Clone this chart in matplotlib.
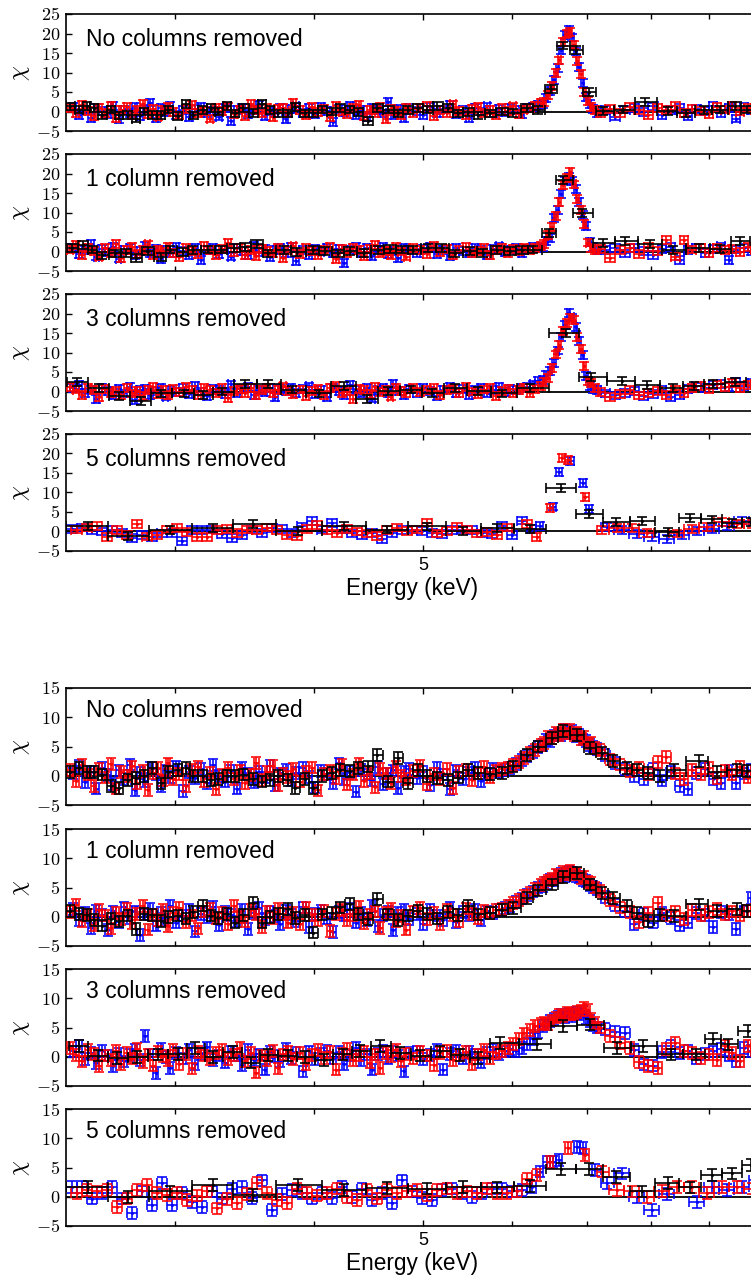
import numpy as np
import matplotlib
matplotlib.use("Agg")
import matplotlib.pyplot as plt
from matplotlib.ticker import FixedLocator, NullFormatter, FuncFormatter

plt.rcParams["mathtext.fontset"] = "cm"
plt.rcParams["font.family"] = ["Liberation Sans", "DejaVu Sans"]

nan = np.nan

# ---------------------------------------------------------------- energy grids (keV)
# fine binning of the red / blue spectra (well exposed data sets)
E_RED_D = ([2.42, 2.45, 2.48, 2.51, 2.54, 2.57, 2.60, 2.63, 2.66, 2.69,
            2.72, 2.75, 2.78, 2.81, 2.84, 2.87, 2.90, 2.93, 2.96, 2.99]
           + [3.03, 3.07, 3.11, 3.15, 3.19, 3.23, 3.27, 3.31, 3.35, 3.39,
              3.43, 3.47, 3.51, 3.55, 3.59, 3.63, 3.67, 3.71, 3.75, 3.79, 3.83]
           + [3.88, 3.93, 3.98, 4.03, 4.08, 4.13, 4.18, 4.23, 4.28, 4.33,
              4.38, 4.43, 4.48, 4.53, 4.58, 4.63, 4.68, 4.73, 4.78, 4.83]
           + [4.90, 4.97, 5.04, 5.11, 5.18, 5.25, 5.32, 5.39, 5.46, 5.53, 5.60,
              5.67, 5.74, 5.81, 5.88, 5.95, 6.02, 6.09, 6.16, 6.23, 6.30, 6.37]
           + [6.42, 6.47, 6.52, 6.57, 6.62, 6.67, 6.72, 6.77, 6.82, 6.87,
              6.92, 6.97, 7.02, 7.07, 7.12]
           + [7.20, 7.35, 7.50, 7.65, 7.80, 7.95, 8.10, 8.25, 8.40, 8.55,
              8.70, 8.85, 9.00, 9.15, 9.30, 9.45, 9.60, 9.75, 9.90])
E_BLUE_D = ([2.435, 2.465, 2.495, 2.525, 2.555, 2.585, 2.615, 2.645, 2.675, 2.705,
             2.735, 2.765, 2.795, 2.825, 2.855, 2.885, 2.915, 2.945, 2.975]
            + [3.01, 3.05, 3.09, 3.13, 3.17, 3.21, 3.25, 3.29, 3.33, 3.37, 3.41,
               3.45, 3.49, 3.53, 3.57, 3.61, 3.65, 3.69, 3.73, 3.77, 3.81, 3.85]
            + [3.905, 3.955, 4.005, 4.055, 4.105, 4.155, 4.205, 4.255, 4.305, 4.355,
               4.405, 4.455, 4.505, 4.555, 4.605, 4.655, 4.705, 4.755, 4.805, 4.855]
            + [4.935, 5.005, 5.075, 5.145, 5.215, 5.285, 5.355, 5.425, 5.495, 5.565,
               5.635, 5.705, 5.775, 5.845, 5.915, 5.985, 6.055, 6.125, 6.195, 6.265, 6.335]
            + [6.395, 6.445, 6.495, 6.545, 6.595, 6.645, 6.695, 6.745, 6.795, 6.845,
               6.895, 6.945, 6.995, 7.045, 7.095, 7.145]
            + [7.275, 7.425, 7.575, 7.725, 7.875, 8.025, 8.175, 8.325, 8.475,
               8.625, 8.775, 8.925, 9.075, 9.225, 9.375, 9.525, 9.675, 9.825])

# coarser binning of the red / blue spectra (5 columns removed)
E_RED_S = [2.4527, 2.5036, 2.5556, 2.6087, 2.6629, 2.7182, 2.7746, 2.8322, 2.8910, 2.9511,
           3.0124, 3.0750, 3.1388, 3.2041, 3.2706, 3.3386, 3.4079, 3.4787, 3.5510, 3.6248,
           3.7001, 3.7770, 3.8554, 3.9355, 4.0173, 4.1008, 4.1860, 4.2729, 4.3617, 4.4523,
           4.5448, 4.6393, 4.7357, 4.8340, 4.9345, 5.0370, 5.1416, 5.2485, 5.3575, 5.4688,
           5.5824, 5.6984, 5.8168, 5.9377, 6.0610, 6.1870, 6.3155,
           6.4071, 6.4866, 6.5671, 6.6486, 6.7311, 6.8146, 6.8992, 6.9848, 7.0715,
           7.2186, 7.4448, 7.6779, 7.9185, 8.1665, 8.4224, 8.6862, 8.9583, 9.2389, 9.5283, 9.8268]
E_BLUE_S = [2.4276, 2.4780, 2.5295, 2.5820, 2.6356, 2.6904, 2.7463, 2.8033, 2.8615, 2.9209,
            2.9816, 3.0435, 3.1067, 3.1713, 3.2372, 3.3044, 3.3731, 3.4431, 3.5147, 3.5877,
            3.6622, 3.7383, 3.8160, 3.8953, 3.9762, 4.0588, 4.1431, 4.2292, 4.3171, 4.4068,
            4.4983, 4.5918, 4.6872, 4.7846, 4.8840, 4.9855, 5.0890, 5.1948, 5.3027, 5.4129,
            5.5253, 5.6401, 5.7573, 5.8769, 5.9990, 6.1237, 6.2509,
            6.3546,
            6.4467, 6.5267, 6.6077, 6.6897, 6.7727, 6.8569, 6.9420, 7.0282, 7.1154,
            7.2932, 7.5217, 7.7573, 8.0003, 8.2509, 8.5094, 8.7760, 9.0509, 9.3344, 9.6268, 9.9284]

# black spectrum binnings
E_BLK_FINE = [2.422, 2.463, 2.504, 2.540, 2.587, 2.630, 2.674, 2.724, 2.769, 2.815,
              2.867, 2.915, 2.963, 3.019, 3.069, 3.119, 3.178, 3.231, 3.284, 3.345,
              3.400, 3.457, 3.529, 3.595, 3.654, 3.715, 3.785, 3.847, 3.927, 3.992,
              4.067, 4.151, 4.220, 4.308, 4.379, 4.470, 4.554, 4.658, 4.755, 4.853,
              4.954, 5.047, 5.152, 5.269, 5.379, 5.491, 5.605, 5.745, 5.888, 6.023,
              6.199, 6.341]
E_BLK_T1_HI = [6.512, 6.675, 6.856, 7.042, 7.247, 7.551, 7.901, 8.268, 8.581, 8.904,
               9.219, 9.506, 9.744]
E_BLK_B_HI = [6.526, 6.675, 6.870, 7.056, 7.232, 7.397, 7.612, 7.771, 7.950, 8.148,
              8.371, 8.813, 9.162, 9.545, 9.744]
E_BLK_T2 = [2.432, 2.483, 2.534, 2.587, 2.657, 2.713, 2.769, 2.838, 2.915, 2.975,
            3.050, 3.119, 3.217, 3.298, 3.387, 3.471, 3.558, 3.639, 3.754, 3.863,
            3.992, 4.092, 4.195, 4.308, 4.425, 4.563, 4.677, 4.794, 4.904, 5.057,
            5.205, 5.346, 5.513, 5.663, 5.828, 5.986, 6.135, 6.276, 6.486, 6.675,
            6.941, 7.247, 7.583, 7.982, 8.354, 8.813, 9.219, 9.605]
E_BLK_T3 = [2.457, 2.566, 2.674, 2.798, 2.915, 3.056, 3.184, 3.311, 3.471, 3.639,
            3.823, 4.034, 4.247, 4.461, 4.658, 4.874, 5.099, 5.346, 5.605, 5.888,
            6.237, 6.716, 7.071, 7.536, 7.933, 8.354, 8.723, 9.088, 9.506]
E_BLK_B3 = [2.463, 2.561, 2.668, 2.780, 2.897, 3.019, 3.132, 3.250, 3.380, 3.508,
            3.639, 3.785, 3.927, 4.076, 4.238, 4.397, 4.582, 4.774, 4.975, 5.183,
            5.401, 5.605, 5.864, 6.328, 6.675, 7.056, 7.459, 7.868, 8.319, 8.759,
            9.088, 9.371, 9.764]
E_BLK_COARSE = [2.509, 2.724, 2.975, 3.244, 3.529, 3.871, 4.247, 4.648, 5.047, 5.435,
                5.828, 6.237, 6.648, 7.042, 7.443, 7.852, 8.268, 8.651, 9.060, 9.448,
                9.824]

# ---------------------------------------------------------------- residuals, chi
# ---- upper set
t1_blk = [1.3, 0.5, 1.5, 1.0, -1.0, 0.5, -1.0, -0.8, -1.8, 0.0,
          -0.8, -0.8, 0.5, -1.2, 2.0, -1.0, 0.3, 0.8, 0.0, 1.5,
          -0.5, 0.8, -0.3, 2.0, 0.3, -0.5, -0.5, 1.2, -0.5, -0.5,
          0.5, 0.0, 0.8, 0.5, -0.2, -2.5, 1.0, 0.5, -0.5, 0.3,
          0.8, 0.5, 1.5, 0.8, -0.5, -0.2, -1.0, -0.5, 0.0, -0.3,
          1.0, 0.3,
          5.8, 16.9, 15.8, 5.0, 0.2, 0.5, 2.5, 0.2, -0.5, 0.3, 0.5, 1.5, 0.5]
t1_red = ([0.8, -0.5, 1.6, 0.2, -1.2, 0.9, -0.3, 1.4, -1.6, 0.5,
           1.1, -0.8, 0.3, 2.0, -0.6, 0.7, -1.3, 0.4, 1.2, -0.2]
          + [-1.0, 0.6, 1.7, -0.4, 0.2, -1.8, 0.9, 0.1, 1.3, -0.7,
             0.5, -1.1, 1.9, 0.3, -0.5, 0.8, -1.4, 0.6, 1.0, -0.3, 2.2]
          + [0.4, -0.9, 1.1, -0.2, 0.7, -1.5, 1.4, 0.0, -0.6, 0.9,
             1.6, -1.1, 0.3, -0.4, 1.2, -2.0, 0.6, 0.2, -0.8, 1.0]
          + [-0.3, 0.8, 1.5, -1.2, 0.4, -0.5, 1.8, 0.2, -0.9, 0.6, 1.1,
             -0.4, 0.3, -1.0, 0.9, 0.1, 1.3, -0.6, 0.5, 0.9, 1.4, 2.2]
          + [2.5, 4.3, 6.6, 9.8, 13.1, 17.8, 20.0, 20.3, 17.0, 13.0,
             9.6, 5.0, 2.6, 1.2, 0.3]
          + [-0.5, 0.6, -0.3, 1.2, 0.4, -0.8, 0.9, 0.3, 1.5, -0.4,
             0.7, 0.2, -0.6, 1.1, 0.5, 1.4, 0.0, 0.8, 0.4])
t1_blue = ([1.2, -0.8, 0.5, -1.7, 1.0, 0.2, -0.6, 1.5, -2.0, 0.4,
            -0.3, 1.1, -1.2, 0.7, 2.3, -1.6, 0.9, -0.2, 1.4]
           + [-0.9, 0.3, -1.5, 0.6, 1.2, -0.5, 0.1, -1.3, 0.8, -2.4, 0.5,
              1.0, -0.7, 0.3, 1.7, -1.1, 0.2, -0.4, 0.9, -1.9, 0.6, 1.3]
           + [-0.3, 0.8, -0.6, 1.1, 0.2, -2.6, 0.7, -0.1, 1.5, -0.9,
              0.4, -1.4, 1.0, 0.3, -0.5, 2.4, -0.8, 0.6, -1.7, 0.9]
           + [0.2, -1.0, 1.2, -0.4, 0.5, 1.7, -0.7, 0.3, -1.6, 0.8,
              0.0, 1.3, -0.5, 0.6, -0.2, 1.0, 0.4, -0.6, 0.9, 1.2, 1.6]
           + [1.8, 3.5, 5.3, 8.0, 11.2, 15.8, 19.6, 20.8, 19.0, 15.4,
              11.4, 7.3, 3.8, 2.0, 0.6, -0.3]
           + [0.3, -1.3, 0.5, 0.9, -0.2, 1.3, -0.9, 0.4, 1.0, -1.2,
              0.6, 0.2, 1.5, -0.5, 0.8, -1.8, 1.2, 0.3])

t2_blk = [0.8, 1.7, 0.5, -1.0, -0.5, -0.3, -1.6, 0.2, -1.5, 0.5,
          -0.2, 0.3, 0.5, 0.5, 0.8, 1.2, 2.0, -0.5, 0.3, -0.2,
          0.3, 0.1, -0.5, 0.2, -0.3, 0.3, 0.6, 0.5, 0.3, 1.0,
          0.8, -0.5, 0.2, -0.3, 0.3, 0.2, 0.3, 0.5, 4.7, 18.4,
          9.8, 2.1, 2.6, 1.9, 0.3, 0.9, 0.6, 2.6]
t2_red = ([0.5, 1.7, -0.8, 0.9, 0.2, -1.3, 1.0, -0.3, 2.0, -1.6,
           0.4, 1.2, -0.6, 0.3, 1.8, -0.9, 0.5, 0.0, 1.1, -0.4]
          + [-1.4, 0.8, 0.2, -0.7, 1.5, 0.3, -1.0, 0.6, 2.3, -0.2,
             0.9, -0.8, 0.4, -1.2, 0.7, 0.1, -0.5, 1.0, -1.7, 0.3, 1.3]
          + [-0.6, 0.8, 0.2, -0.9, 0.5, 1.2, -2.0, 0.6, -0.3, 1.0,
             0.4, -1.1, 0.7, 1.6, -0.4, 0.2, -0.8, 1.1, 0.0, -1.3]
          + [0.9, 0.3, -0.6, 1.4, -0.2, 0.7, -1.0, 0.5, 1.2, -0.5, 0.2,
             0.8, -0.9, 0.4, 1.0, -0.3, 0.6, 0.1, 0.9, 0.4, 1.0, 1.5]
          + [2.0, 4.3, 6.2, 9.2, 12.6, 17.0, 18.9, 20.3, 17.2, 13.5,
             10.6, 7.0, 2.3, 1.0, 0.4]
          + [0.6, -1.7, 0.3, 0.9, -0.6, 1.2, 0.2, 3.0, -1.3, 3.0,
             0.5, 0.8, -0.3, 1.0, 0.4, 0.6, -0.2, 1.1, 0.5])
t2_blue = ([1.0, -0.6, 0.3, 2.0, -1.3, 0.6, -0.2, 1.1, -1.8, 0.4,
            0.9, -0.8, 0.2, 1.5, -0.4, 0.7, -2.0, 0.5, -0.3]
           + [1.2, 0.1, -1.0, 0.8, -2.2, 0.3, 1.0, -0.6, 0.5, -1.3, 0.9,
              0.2, -0.8, 1.4, -0.2, 0.6, -1.5, 0.3, 0.8, -0.5, 1.1, -2.4]
           + [0.4, -1.0, 0.7, 0.0, 0.9, -0.3, 0.6, -3.0, 0.5, 1.2,
              -0.4, 0.8, -1.2, 0.3, 1.1, -0.7, 0.2, -1.6, 0.9, 0.5]
           + [-0.4, 0.7, 1.2, -0.6, 0.3, -1.1, 0.8, 0.1, -0.5, 1.0,
              0.4, -0.9, 0.6, 1.3, -0.2, 0.5, 0.9, -0.3, 0.6, 1.1, 0.8]
           + [1.2, 2.6, 3.5, 8.5, 10.6, 14.8, 18.2, 19.2, 18.0, 16.0,
              12.6, 9.4, 6.5, 2.5, 1.2, 0.3]
           + [0.4, 1.0, -0.5, 0.8, 0.2, -0.9, 0.6, 1.2, -2.1, 0.3,
              0.9, -0.4, 0.7, 1.3, -2.1, 0.5, 1.0, 0.2])

t3_blk = [2.4, 0.8, -1.2, -2.5, -0.5, -0.5, -0.8, 0.0, 2.0, 2.0,
          0.5, -0.5, 1.5, -2.0, 0.2, 0.5, -0.3, 0.8, 0.2, -0.5,
          0.8, 15.1, 3.8, 2.6, 1.7, 0.8, 1.5, 2.0, 2.5]
t3_red = ([1.2, 0.5, -0.8, 1.0, 0.3, -1.5, 0.6, -0.3, 0.2, -1.0,
           0.8, -0.5, 0.1, -1.2, 0.4, 1.1, -0.6, 0.3, -0.9, 0.7]
          + [-0.2, 1.2, 0.5, -0.8, 0.9, 0.3, -0.4, 1.0, -1.6, 0.2,
             0.6, -0.3, 0.8, -1.0, 0.4, 0.9, -0.5, 0.3, 1.3, 0.1, -0.6]
          + [0.5, -1.2, 0.2, 0.7, -0.8, 0.9, 1.4, -0.4, 0.0, -1.9,
             0.6, 0.3, -0.7, 1.1, -0.2, 0.5, -1.3, 0.8, 0.2, -0.5]
          + [0.9, -0.2, 0.4, 1.0, -0.9, 0.3, 0.6, -0.4, 1.2, 0.0, -0.7,
             0.5, 0.8, -1.1, 0.2, 0.6, -0.3, 0.4, 0.9, -0.5, 0.7, 1.4]
          + [2.5, 3.4, 6.0, 9.5, 12.0, 15.5, 17.6, 18.8, 18.4, 14.0,
             10.9, 6.5, 2.6, 2.1, 0.8]
          + [-0.2, -1.4, -0.6, 0.3, -1.0, -0.4, 0.2, -0.8, 0.5, -0.3,
             0.9, 1.4, 0.6, 1.8, 1.2, 2.2, 1.0, 1.7, 2.0])
t3_blue = ([0.8, 1.6, -0.3, 0.5, -1.9, 0.9, 0.2, -1.0, 0.6, -0.5,
            1.1, -2.1, 0.3, 0.7, -0.8, 0.2, 1.0, -1.3, 0.4]
           + [-0.2, 0.9, -0.6, 1.4, 0.0, -1.1, 0.6, 0.3, -0.7, 1.8, -0.4,
              0.5, 1.2, -0.9, 0.3, -0.2, 0.8, -1.5, 0.6, 0.2, 1.0, -0.4]
           + [0.7, 1.3, -0.6, 0.4, -1.4, 0.9, 0.1, -0.8, 1.6, 0.3,
              -0.5, 1.0, -1.8, 0.4, 0.8, -0.3, 1.9, 0.2, -0.9, 0.6]
           + [-0.4, 0.8, 0.2, -1.2, 0.5, 1.1, -0.3, 0.6, -0.8, 0.3,
              0.9, -0.5, 0.4, 1.2, -0.2, 0.6, 0.3, 1.0, 1.2, 1.8, 2.8]
           + [3.0, 4.3, 5.2, 7.3, 10.5, 14.0, 17.0, 20.1, 19.0, 16.5,
              13.0, 9.4, 4.0, 1.5, 0.6, 0.4]
           + [-0.5, -1.0, -0.3, 0.1, -1.2, -0.6, 0.4, -1.4, -0.8, 0.6,
              1.3, 0.9, 1.6, 2.0, 1.1, 2.4, 1.5, 2.2])

t4_blk = [1.5, -1.2, 0.3, 0.8, 2.0, 0.2, 1.5, 0.5, 1.3, 0.2,
          0.8, 0.6, 11.1, 4.4, 2.4, 2.6, -0.2, 3.4, 3.1, 2.1, 2.5]
t4_red = [0.5, 1.0, 1.5, -1.5, 0.3, -1.0, 2.0, -1.3, -1.0, 0.5,
          0.8, -0.2, -1.5, -1.5, 0.3, 0.6, -0.3, 0.5, 0.3, 1.0,
          0.3, -1.0, -1.2, 0.6, 1.7, 0.3, -0.5, 0.6, 0.0, -0.5,
          -1.2, 0.4, 1.0, 0.2, 0.5, 2.3, -0.5, 0.2, 1.2, 0.5,
          -0.5, -0.2, -1.0, 1.0, nan, 2.0, -1.5,
          nan, 6.1, nan, 18.8, 18.4, nan, nan, 8.8, nan,
          0.3, 0.9, 0.8, -0.3, nan, -0.5, 0.7, 1.2, 2.4, 2.0, 2.0]
t4_blue = [0.6, 1.0, 0.3, 0.0, 0.5, -0.3, -1.7, -0.8, -1.5, -0.5,
           -0.3, -2.5, 0.3, 0.3, 0.5, -0.6, -1.7, -1.0, 0.5, -0.3,
           0.8, 0.6, -0.4, 1.3, 2.7, 0.5, 2.2, 0.5, -0.5, -0.8,
           -0.3, -2.0, -0.5, 0.3, 0.5, 0.2, -0.3, -0.6, 0.3, 0.5,
           0.3, -0.5, -0.6, 1.5, -1.0, 2.8, 0.7,
           1.5,
           nan, 6.4, 15.2, nan, 18.0, nan, 12.4, 5.8, nan,
           1.1, 0.4, -0.6, -1.5, -1.9, -1.0, 0.2, 0.7, 1.5, 2.8, 2.5]

# ---- lower set
b1_blk = [0.7, 1.3, 0.7, 0.7, 0.2, -1.8, -2.1, -0.7, -0.4, 0.0,
          1.3, -1.3, 0.7, 1.0, 1.3, 0.0, 0.0, -0.7, -0.5, 0.0,
          0.0, 0.2, -0.5, -1.0, -0.7, 0.0, -0.7, -2.1, -0.5, -2.1,
          0.0, 0.5, 1.0, 0.8, 1.3, 1.6, 3.6, -1.0, 3.0, -1.3,
          1.0, 0.0, -0.4, -0.7, -0.3, 1.0, 0.5, 0.3, 0.5, 1.6,
          3.6, 5.0,
          6.4, 7.6, 7.0, 4.7, 3.9, 2.5, 1.3, 1.0, 0.5, 0.0, 1.0, 2.5, 0.7, 1.0, 0.8]
b1_red = ([1.0, -0.9, 1.9, 0.2, -1.7, 1.2, -0.3, 2.0, -2.2, 0.6,
           0.0, 1.6, -1.3, 0.8, -2.4, 0.4, 1.3, -0.8, 2.1, -0.5]
          + [0.3, -1.8, 1.0, 1.5, -1.0, 0.5, -2.3, 0.2, 1.4, -0.6,
             0.9, -1.3, 0.1, 2.2, -0.7, 0.7, 1.7, -1.6, 0.3, -0.2, 1.2]
          + [-1.0, 0.6, 1.4, -2.5, 0.3, 0.9, -0.4, 1.8, -1.5, 0.2,
             2.0, -0.9, 0.5, -2.0, 1.1, 0.4, -1.2, 1.5, 0.0, -0.6]
          + [0.8, 1.7, -1.4, 0.3, -0.5, 1.2, -2.1, 0.6, 1.0, -0.8, 0.4,
             1.5, -0.3, 0.9, 1.1, 1.4, 1.8, 2.4, 3.0, 3.9, 4.4, 5.3]
          + [5.6, 6.6, 6.4, 7.3, 7.0, 7.9, 7.2, 7.8, 6.9, 7.4,
             6.3, 6.6, 5.5, 5.7, 4.8]
          + [4.4, 2.8, 1.9, 0.8, 1.4, 0.2, 2.3, 3.2, 0.4, -0.6,
             1.0, 0.3, 1.3, -0.4, 0.9, 0.2, 1.5, -0.3, 0.7])
b1_blue = ([0.4, 1.7, -1.1, 0.7, -2.2, 1.3, 0.1, -1.4, 0.9, -0.6,
            1.9, -2.4, 0.5, -0.9, 1.4, 0.2, -1.8, 0.9, -0.2]
           + [1.6, -2.6, 0.6, -0.4, 1.1, -1.3, 1.8, 0.0, -1.0, 0.8, -2.2,
              1.4, 0.3, -1.1, 0.7, -0.3, 1.7, -1.6, 0.4, 1.0, -0.7, 0.5]
           + [1.3, -0.2, -2.0, 0.8, 0.3, -1.2, 2.1, -0.5, 0.6, -2.7,
              1.0, 0.2, -0.8, 1.5, -1.4, 0.4, 0.9, -2.1, 0.6, 1.2]
           + [-0.4, 0.7, -1.6, 1.3, 0.2, -2.3, 0.9, -0.6, 0.5, 1.4,
              -0.9, 0.3, 1.1, 0.6, 1.0, 1.3, 2.0, 2.7, 3.4, 4.1, 4.9]
           + [5.2, 6.1, 6.0, 6.9, 7.2, 7.0, 7.8, 7.3, 7.6, 6.8,
              7.0, 6.2, 6.0, 5.3, 5.0, 4.6]
           + [3.6, 2.2, 1.2, 0.0, -0.5, 1.1, -0.8, 0.6, -1.8, -2.3,
              0.5, 1.2, -0.6, -1.3, 0.8, -1.2, 0.4, 1.0])

b2_blk = [1.0, 0.5, 0.3, -0.5, -1.5, -0.3, -0.8, 0.2, -2.1, 0.5,
          0.3, -0.7, 0.0, 0.2, -0.3, 0.8, 1.9, 0.2, -0.2, 0.5,
          -1.0, 0.3, 2.4, -1.0, 0.0, 0.5, 1.3, -0.2, 0.3, -2.7,
          0.4, 0.7, 1.6, 2.2, 0.5, -0.4, 3.0, 0.4, -0.5, 0.2,
          1.0, 0.5, -0.3, 0.8, 0.3, 1.8, 0.4, 0.6, 1.2, 1.5,
          3.2, 4.5,
          5.5, 6.8, 7.5, 5.5, 4.1, 3.2, 1.8, 0.6, -0.7, 0.3, 0.1, 2.1, 1.0, 1.3, 1.0]
b2_red = ([0.8, 2.0, -0.7, 0.4, -1.4, 1.2, 0.2, -2.0, 0.7, -0.4,
           1.4, -1.1, 0.5, 1.8, -2.2, 0.3, -0.6, 1.1, -1.6, 0.6]
          + [1.5, -0.9, 0.2, -2.0, 0.9, 1.3, -0.3, 0.6, -1.2, 1.8,
             0.0, -0.8, 1.2, 0.4, -1.8, 0.8, -0.2, 1.4, 0.5, -1.0, 0.7]
          + [-1.3, 1.6, 0.3, -0.6, 1.0, -2.4, 0.5, 1.2, -0.5, 0.2,
             1.7, -1.1, 0.4, 0.9, -1.9, 0.6, 1.3, -0.7, 0.1, -2.2]
          + [0.9, 1.5, -0.4, 0.6, -1.2, 1.1, 0.3, -0.8, 1.4, 0.5, -0.3,
             1.0, 0.7, 1.2, 1.3, 1.9, 2.3, 2.9, 3.5, 4.1, 4.7, 5.4]
          + [5.8, 6.2, 6.5, 7.1, 6.8, 7.6, 7.3, 7.8, 7.2, 7.4,
             6.6, 6.9, 6.0, 5.8, 5.0]
          + [4.4, 2.9, 1.6, 0.8, -0.9, 0.6, 2.4, 0.2, 0.9, -0.4,
             1.1, 0.3, 0.8, 1.3, 0.4, 0.9, 0.2, 1.0, 1.2])
b2_blue = ([1.3, -0.6, 0.7, -2.0, 1.0, 0.3, -2.3, 0.9, -0.9, 1.6,
            -0.2, 0.9, -3.1, 0.4, 1.3, -1.5, 0.7, -0.5, 1.9]
           + [-1.0, 0.2, 1.1, -2.5, 0.5, -0.1, 1.7, -1.4, 0.8, 0.3, -0.8,
              1.2, -2.1, 0.6, 1.5, -0.4, 0.9, 0.1, -1.3, 1.0, 0.4, -0.7]
           + [1.6, -1.8, 0.5, 1.0, -0.3, -2.6, 0.8, 0.2, 1.4, -1.0,
              0.6, -0.5, 1.8, -1.6, 0.3, 0.9, -2.3, 0.7, 1.2, -0.4]
           + [0.5, -1.3, 1.1, 0.2, -0.6, 1.5, -0.9, 0.8, 0.3, 1.2,
              -0.5, 0.9, 0.6, 1.1, 1.5, 1.8, 2.5, 3.1, 3.7, 4.3, 5.0]
           + [5.3, 5.8, 6.3, 6.2, 7.0, 7.3, 6.9, 7.6, 7.5, 7.0,
              6.8, 6.3, 6.1, 5.4, 5.1, 4.7]
           + [3.4, 2.0, 0.9, -1.3, 0.5, -1.0, 0.7, -0.2, -1.5, -1.0,
              0.6, 0.3, -1.8, 0.8, 0.4, -2.1, 0.9, 3.2])

b3_blk = [1.8, 0.2, -0.2, 0.0, 0.4, 0.5, 1.5, 0.0, 0.8, -1.0,
          0.3, 0.2, 0.0, -0.5, 0.4, 1.0, 1.8, 0.6, 0.2, 0.9,
          0.3, -0.2, 2.4, 2.1, 5.3, 5.5, 1.5, 1.8, 0.4, 0.4,
          3.1, 2.1, 4.4]
b3_red = ([1.5, 0.3, -0.8, 1.2, 0.5, -1.6, 0.2, -0.5, 1.0, -1.2,
           0.6, -0.3, 1.4, -0.9, 0.4, -1.5, 0.9, 0.1, -0.6, 1.1]
          + [-1.3, 0.5, -2.0, 0.8, 0.2, -0.4, 0.7, 1.2, -0.4, 0.3,
             1.5, -0.8, 0.6, -2.7, 0.2, -0.5, 1.0, -2.0, 0.4, 0.9, -0.4]
          + [0.6, -1.3, 0.3, 1.1, -0.2, 0.8, -2.2, 0.5, 1.3, -0.6,
             0.2, 0.9, -1.0, 0.4, -1.9, 0.7, 0.1, 1.2, -0.8, 0.5]
          + [-0.3, 0.9, 0.2, -1.4, 0.6, 1.0, -0.5, 0.3, 0.8, -1.3, 0.4,
             1.1, -0.2, 0.6, 1.0, 1.5, 2.2, 3.0, 4.0, 4.6, 5.2, 5.6]
          + [5.8, 5.6, 6.2, 6.7, 7.1, 7.0, 7.5, 7.3, 7.2, 7.6,
             7.9, 8.4, 8.0, 6.4, 5.8]
          + [5.0, 3.6, 2.4, 1.5, -0.9, -1.6, -1.9, 1.3, 2.4, 1.0,
             0.7, -0.2, 0.4, -0.5, 1.8, 0.6, -0.7, 1.8, 1.2])
b3_blue = ([0.9, 1.8, -0.4, 0.6, -1.1, 1.0, 0.2, -1.6, 0.5, -0.8,
            0.3, 1.2, -0.5, 3.6, 0.4, -2.8, 1.3, 0.0, -1.9]
           + [0.7, -0.3, 1.1, -1.2, 0.5, 1.6, -0.5, 0.2, -1.0, 0.9, 0.3,
              -1.4, 1.2, -0.6, 0.4, -2.2, 0.8, 0.1, -0.7, 1.3, -0.2, 0.6]
           + [-2.5, 0.9, -0.4, 0.5, 1.0, -0.3, 0.8, -1.3, 0.2, 1.5,
              -0.6, 0.4, -2.2, 0.5, 1.0, -0.3, 0.8, 0.2, -2.5, 0.6]
           + [0.9, -0.4, 0.3, 1.1, -2.2, 0.5, 1.0, -0.3, 0.8, 0.4,
              -1.0, 0.6, 1.2, 0.4, 0.9, 1.3, 1.0, 1.5, 2.2, 3.0, 4.2]
           + [5.2, 5.5, 6.1, 6.5, 6.9, 7.2, 6.8, 7.4, 7.0, 7.5,
              7.2, 7.6, 6.6, 6.1, 5.4, 5.0]
           + [4.7, 4.3, 4.1, 1.2, -1.3, -1.5, 0.8, 1.8, 0.6, 1.0,
              -0.3, 0.5, 0.9, 1.3, 0.2, -0.7, 1.5, 1.0])

b4_blk = [1.7, 0.0, 0.9, 2.0, 0.3, 2.0, 1.2, 1.5, 1.4, 1.7,
          1.6, 1.8, 4.8, 4.8, 3.4, 0.9, 2.3, 1.6, 3.7, 4.0, 5.4]
b4_red = [0.6, 1.1, 0.9, 1.1, -1.7, -0.3, 1.1, 2.0, 0.6, 0.3,
          0.6, -0.5, 0.2, 0.9, -2.0, -0.4, -1.1, 0.5, 2.3, 0.6,
          -0.5, -1.1, 1.4, 0.6, 0.2, 0.6, 1.4, 0.0, -0.6, 1.1,
          -0.3, 1.1, 0.6, 0.9, 1.1, 0.3, 1.1, 1.4, 0.6, 0.9,
          0.6, 1.4, 0.6, 0.6, 0.9, 3.1, 3.7,
          nan, 6.0, nan, nan, 8.3, nan, nan, 7.1, nan,
          4.3, 1.2, 0.9, 0.0, 1.0, 1.7, 1.7, 0.6, 1.7, 1.7, 1.4]
b4_blue = [1.7, 1.7, -0.3, 0.6, 1.7, -0.3, -2.8, 0.9, -1.4, 2.3,
           -1.4, 0.6, -0.9, -1.7, 0.9, -0.3, 1.4, 1.7, -0.2, 2.8,
           -2.3, 0.5, 1.1, 0.6, -0.3, 0.6, -0.2, 1.7, 0.0, 1.4,
           -0.5, 0.6, -1.1, 2.8, 0.9, -0.2, -0.6, 1.1, 1.4, 0.6,
           0.0, 0.6, 1.4, 1.4, 0.9, 1.1, 1.7,
           4.3,
           6.0, 6.0, 6.3, nan, nan, 8.5, 8.3, nan, 4.6,
           2.3, 4.0, 0.0, -2.3, 0.5, nan, -0.9, 1.7, 1.2, 1.7, 2.8]

LABELS = ["No columns removed", "1 column removed",
          "3 columns removed", "5 columns removed"]

# ---------------------------------------------------------------- layout (pixels)
W, H = 751, 1277
AX_LEFT, AX_W, AX_H = 66, 694, 117
TOP_GROUP = [14, 154, 294, 434]
BOT_GROUP = [688, 829, 969, 1109]


def bin_err(e):
    """Half bin widths for contiguous bins centred on e."""
    e = np.asarray(e, float)
    d = np.diff(e)
    lo = np.concatenate([[d[0]], d]) / 2.0
    hi = np.concatenate([d, [d[-1]]]) / 2.0
    return np.vstack([lo, hi])


def residuals(ax, e, chi, color, alpha, z):
    e = np.asarray(e, float)
    chi = np.asarray(chi, float)
    ax.errorbar(e, chi, xerr=bin_err(e), yerr=1.0, fmt=".", ms=2.5,
                color=color, ecolor=color, alpha=alpha,
                elinewidth=1.4, capsize=3.5, capthick=1.4, zorder=z)


fig = plt.figure(figsize=(W / 100, H / 100), dpi=100)
fig.patch.set_facecolor("white")

panels = [
    (TOP_GROUP[0], "top", E_BLK_FINE + E_BLK_T1_HI, t1_blk, E_RED_D, t1_red, E_BLUE_D, t1_blue),
    (TOP_GROUP[1], "top", E_BLK_T2, t2_blk, E_RED_D, t2_red, E_BLUE_D, t2_blue),
    (TOP_GROUP[2], "top", E_BLK_T3, t3_blk, E_RED_D, t3_red, E_BLUE_D, t3_blue),
    (TOP_GROUP[3], "top", E_BLK_COARSE, t4_blk, E_RED_S, t4_red, E_BLUE_S, t4_blue),
    (BOT_GROUP[0], "bot", E_BLK_FINE + E_BLK_B_HI, b1_blk, E_RED_D, b1_red, E_BLUE_D, b1_blue),
    (BOT_GROUP[1], "bot", E_BLK_FINE + E_BLK_B_HI, b2_blk, E_RED_D, b2_red, E_BLUE_D, b2_blue),
    (BOT_GROUP[2], "bot", E_BLK_B3, b3_blk, E_RED_D, b3_red, E_BLUE_D, b3_blue),
    (BOT_GROUP[3], "bot", E_BLK_COARSE, b4_blk, E_RED_S, b4_red, E_BLUE_S, b4_blue),
]

for i, (top, group, e_blk, blk, e_red, red, e_blue, blue) in enumerate(panels):
    ax = fig.add_axes([AX_LEFT / W, 1 - (top + AX_H) / H, AX_W / W, AX_H / H])
    ax.axhline(0, color="black", lw=1.3, zorder=1)
    residuals(ax, e_blue, blue, (0.0, 0.0, 1.0), 0.82, 2)
    residuals(ax, e_red, red, (1.0, 0.0, 0.0), 0.82, 3)
    residuals(ax, e_blk, blk, "black", 0.85, 4)

    ax.set_xscale("log")
    ax.set_xlim(2.4, 10.0)
    if group == "top":
        ax.set_ylim(-5, 25)
        ax.set_yticks([-5, 0, 5, 10, 15, 20, 25])
        label_y = 0.725
    else:
        ax.set_ylim(-5, 15)
        ax.set_yticks([-5, 0, 5, 10, 15])
        label_y = 0.748
    ax.yaxis.set_major_formatter(FuncFormatter(lambda v, p: r"$%d$" % v))
    ax.yaxis.set_minor_locator(FixedLocator([]))

    ax.xaxis.set_major_locator(FixedLocator([5]))
    ax.xaxis.set_minor_locator(FixedLocator([3, 4, 6, 7, 8, 9]))
    ax.xaxis.set_minor_formatter(NullFormatter())
    last = (i % 4 == 3)
    if last:
        ax.xaxis.set_major_formatter(FuncFormatter(lambda v, p: "%d" % v))
    else:
        ax.xaxis.set_major_formatter(NullFormatter())

    ax.tick_params(which="both", direction="in", top=True, right=True, width=1.0)
    ax.tick_params(which="major", length=4.5)
    ax.tick_params(which="minor", length=3.5)
    ax.tick_params(axis="y", labelsize=13, pad=4)
    ax.tick_params(axis="x", labelsize=13, pad=4)
    for sp in ax.spines.values():
        sp.set_linewidth(1.2)

    ax.text(0.029, label_y, LABELS[i % 4], transform=ax.transAxes,
            fontsize=16.5, va="baseline", ha="left")

    yc = top + AX_H / 2
    fig.text(21 / W, 1 - yc / H, r"$\chi$", rotation=90, fontsize=17,
             ha="center", va="center")

    if last:
        base = top + AX_H + 44
        fig.text(412 / W, 1 - base / H, "Energy (keV)", fontsize=16.3,
                 ha="center", va="baseline")

fig.savefig("out.png", dpi=100)
